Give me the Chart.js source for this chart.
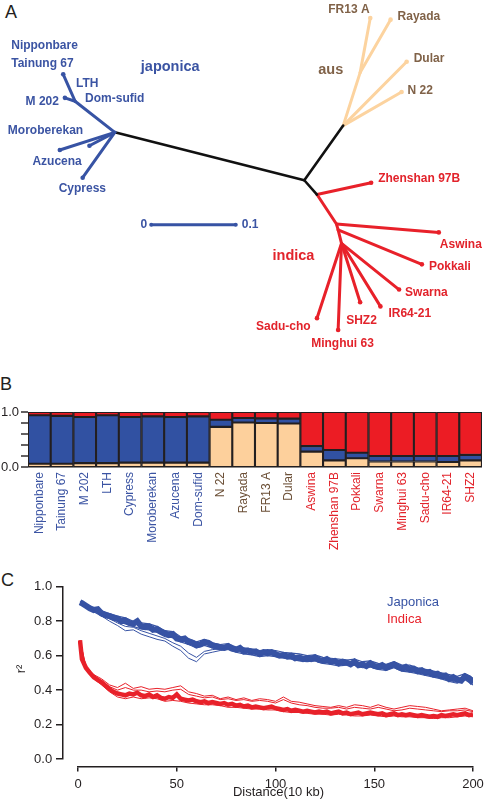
<!DOCTYPE html>
<html>
<head>
<meta charset="utf-8">
<script src="https://cdn.jsdelivr.net/npm/chart.js@4.4.1/dist/chart.umd.min.js"></script>
<style>
  body { margin: 0; background: #fff; width: 490px; height: 800px; position: relative; overflow: hidden;
         font-family: "Liberation Sans", Arial, sans-serif; }
  canvas { position: absolute; left: 0; }
  .letter { position: absolute; line-height: 1; color: #231f20; font-size: 18px; }
</style>
</head>
<body>
<div class="letter" style="left:5px;top:3px">A</div>
<div class="letter" style="left:0px;top:375px">B</div>
<div class="letter" style="left:1px;top:571px">C</div>
<canvas id="treeChart" width="490" height="360" style="top:0"></canvas>
<canvas id="structureChart" width="490" height="155" style="top:395px"></canvas>
<canvas id="ldChart" width="490" height="225" style="top:575px"></canvas>
<script>
// ---------- Panel A: tree, node positions in substitutions per site ----------
const nodeNames = ['J0', 'Jmid', 'NippTip', 'M202Tip', 'MoroTip', 'AzuTip', 'CypTip', 'Root', 'AusHub', 'AusInt',
  'FR13ATip', 'RayTip', 'DulTip', 'N22Tip', 'I0', 'ZhsTip', 'I1', 'AswTip', 'I2', 'PokTip', 'I3',
  'SwaTip', 'IR64Tip', 'SHZ2Tip', 'MinTip', 'SadTip'];
const nodeX = [.131, .084, .070, .072, .066, .101, .093, .355, .401, .421,
  .433, .457, .476, .470, .370, .434, .393, .514, .395, .494, .399,
  .467, .445, .421, .395, .370];
const nodeY = [.266, .303, .335, .307, .245, .250, .212, .209, .274, .337,
  .402, .400, .350, .314, .192, .206, .157, .147, .150, .109, .134,
  .079, .059, .064, .031, .045];

const branchFrom = ['J0', 'Jmid', 'Jmid', 'J0', 'J0', 'J0', 'J0', 'Root', 'Root', 'AusHub', 'AusInt', 'AusInt', 'AusHub', 'AusHub',
  'I0', 'I0', 'I1', 'I1', 'I2', 'I2', 'I3', 'I3', 'I3', 'I3', 'I3'];
const branchTo = ['Jmid', 'NippTip', 'M202Tip', 'MoroTip', 'AzuTip', 'CypTip', 'Root', 'AusHub', 'I0', 'AusInt', 'FR13ATip', 'RayTip', 'DulTip', 'N22Tip',
  'ZhsTip', 'I1', 'AswTip', 'I2', 'PokTip', 'I3', 'SwaTip', 'IR64Tip', 'SHZ2Tip', 'MinTip', 'SadTip'];
const branchGroup = ['jap', 'jap', 'jap', 'jap', 'jap', 'jap', 'stem', 'stem', 'stem', 'aus', 'aus', 'aus', 'aus', 'aus',
  'ind', 'ind', 'ind', 'ind', 'ind', 'ind', 'ind', 'ind', 'ind', 'ind', 'ind'];

const tipLabels = ['Nipponbare', 'Tainung 67', 'LTH', 'Dom-sufid', 'M 202', 'Moroberekan', 'Azucena', 'Cypress',
  'FR13 A', 'Rayada', 'Dular', 'N 22',
  'Zhenshan 97B', 'Aswina', 'Pokkali', 'Swarna', 'IR64-21', 'SHZ2', 'Sadu-cho', 'Minghui 63'];
const tipLabelNode = ['NippTip', 'NippTip', 'Jmid', 'Jmid', 'M202Tip', 'MoroTip', 'AzuTip', 'CypTip',
  'FR13ATip', 'RayTip', 'DulTip', 'N22Tip',
  'ZhsTip', 'AswTip', 'PokTip', 'SwaTip', 'IR64Tip', 'SHZ2Tip', 'SadTip', 'MinTip'];
const tipLabelGroup = ['jap', 'jap', 'jap', 'jap', 'jap', 'jap', 'jap', 'jap', 'aus', 'aus', 'aus', 'aus',
  'ind', 'ind', 'ind', 'ind', 'ind', 'ind', 'ind', 'ind'];
const cladeLabels = ['japonica', 'aus', 'indica'];
const cladeLabelNode = ['J0', 'AusHub', 'I3'];
const cladeLabelGroup = ['jap', 'aus', 'ind'];
const scaleBarLength = 0.1;
const scaleBarTicks = ['0', '0.1'];

// ---------- Panel B: structure proportions ----------
const accessions = ['Nipponbare', 'Tainung 67', 'M 202', 'LTH', 'Cypress', 'Moroberekan', 'Azucena', 'Dom-sufid',
  'N 22', 'Rayada', 'FR13 A', 'Dular',
  'Aswina', 'Zhenshan 97B', 'Pokkali', 'Swarna', 'Minghui 63', 'Sadu-cho', 'IR64-21', 'SHZ2'];
const accessionGroup = ['jap', 'jap', 'jap', 'jap', 'jap', 'jap', 'jap', 'jap', 'aus', 'aus', 'aus', 'aus',
  'ind', 'ind', 'ind', 'ind', 'ind', 'ind', 'ind', 'ind'];
const ausShare = [0.06, 0.06, 0.07, 0.07, 0.08, 0.08, 0.08, 0.08, 0.73, 0.81, 0.80, 0.79,
  0.28, 0.12, 0.16, 0.10, 0.10, 0.10, 0.09, 0.12];
const japShare = [0.88, 0.87, 0.84, 0.87, 0.83, 0.84, 0.83, 0.84, 0.13, 0.08, 0.085, 0.09,
  0.10, 0.19, 0.10, 0.10, 0.10, 0.10, 0.11, 0.10];
const indShare = [0.06, 0.07, 0.09, 0.06, 0.09, 0.08, 0.09, 0.08, 0.14, 0.11, 0.115, 0.12,
  0.62, 0.69, 0.74, 0.80, 0.80, 0.80, 0.80, 0.78];

// ---------- Panel C: LD decay (r^2 vs distance in 10 kb) ----------
const distFine = [1, 2, 4, 6, 8, 10, 12, 14, 16, 18, 20, 22, 24, 26, 28, 30, 32, 34, 36, 38,
  40, 42, 44, 46, 48, 50, 52, 54, 56, 58, 60, 62, 64, 66, 68, 70, 72, 74, 76, 78,
  80, 82, 84, 86, 88, 90, 92, 94, 96, 98, 100, 102, 104, 106, 108, 110, 112, 114, 116, 118,
  120, 122, 124, 126, 128, 130, 132, 134, 136, 138, 140, 142, 144, 146, 148, 150, 152, 154, 156, 158,
  160, 162, 164, 166, 168, 170, 172, 174, 176, 178, 180, 182, 184, 186, 188, 190, 192, 194, 196, 198, 200];
const distCoarse = [1, 4, 8, 12, 16, 20, 24, 28, 32, 36, 40, 44, 48, 52, 56, 60, 64, 68, 72, 76,
  80, 84, 88, 92, 96, 100, 104, 108, 112, 116, 120, 124, 128, 132, 136, 140, 144, 148, 152, 156,
  160, 164, 168, 172, 176, 180, 184, 188, 192, 196, 200];

const japMain = [.91, .905, .89, .875, .865, .87, .845, .835, .83, .82,
  .815, .80, .805, .79, .785, .80, .77, .765, .77, .75,
  .755, .74, .73, .72, .725, .70, .695, .70, .68, .675,
  .66, .665, .68, .675, .66, .655, .65, .645, .655, .64,
  .635, .645, .625, .63, .62, .625, .61, .62, .615, .62,
  .61, .60, .605, .595, .60, .585, .59, .58, .585, .58,
  .59, .575, .57, .58, .565, .57, .555, .565, .56, .55,
  .565, .545, .55, .54, .555, .54, .535, .545, .53, .54,
  .55, .535, .525, .535, .52, .525, .51, .515, .50, .505,
  .49, .495, .48, .485, .465, .475, .46, .455, .48, .47, .44];
const japUpper = [.915, .90, .875, .86, .845, .83, .82, .80, .79, .785,
  .77, .745, .74, .71, .70, .68, .695, .675, .665, .67,
  .65, .645, .64, .63, .635, .63, .62, .615, .61, .60,
  .605, .59, .585, .58, .575, .58, .565, .57, .555, .55,
  .565, .545, .545, .53, .52, .51, .50, .49, .48, .495, .47];
const japLower = [.90, .88, .855, .83, .815, .80, .785, .77, .755, .75,
  .735, .71, .705, .68, .665, .645, .66, .645, .635, .64,
  .62, .61, .605, .595, .60, .595, .585, .58, .57, .565,
  .57, .555, .55, .54, .545, .545, .53, .535, .52, .515,
  .53, .51, .505, .495, .485, .475, .465, .45, .44, .46, .43];
const japDip1 = [.905, .885, .86, .83, .80, .775, .745, .75, .725, .71,
  .695, .685, .655, .63, .585, .565, .61, .62, .63, .635,
  .625, .62, .615, .60, .61, .605, .59, .59, .58, .575,
  .58, .56, .56, .55, .555, .55, .54, .545, .525, .525,
  .54, .52, .515, .505, .495, .485, .47, .46, .45, .47, .45];
const japDip2 = [.908, .89, .865, .84, .815, .79, .77, .765, .745, .73,
  .715, .70, .675, .655, .615, .59, .625, .635, .64, .645,
  .63, .625, .615, .605, .61, .60, .595, .59, .575, .57,
  .575, .565, .555, .55, .55, .555, .535, .54, .53, .52,
  .54, .515, .51, .50, .49, .48, .47, .455, .445, .465, .44];

const indMain = [.69, .58, .53, .50, .475, .46, .445, .425, .405, .39,
  .38, .375, .37, .38, .375, .385, .37, .365, .375, .36,
  .37, .355, .35, .36, .355, .375, .35, .345, .34, .345,
  .335, .33, .335, .325, .33, .325, .32, .325, .315, .32,
  .31, .315, .305, .31, .30, .305, .30, .295, .30, .305,
  .295, .29, .285, .29, .28, .285, .28, .275, .28, .275,
  .27, .275, .27, .275, .265, .27, .275, .265, .27, .26,
  .265, .27, .26, .265, .27, .265, .26, .265, .255, .26,
  .265, .255, .26, .255, .26, .255, .25, .255, .25, .245,
  .25, .245, .255, .25, .255, .26, .255, .26, .265, .255, .26];
const indHigh1 = [.69, .54, .49, .465, .43, .415, .44, .41, .42, .405,
  .41, .405, .415, .425, .39, .38, .365, .37, .35, .36,
  .345, .355, .34, .35, .345, .335, .36, .335, .33, .32,
  .31, .305, .30, .31, .30, .315, .31, .30, .315, .30,
  .29, .30, .31, .305, .30, .29, .28, .285, .29, .295, .28];
const indHigh2 = [.69, .535, .48, .45, .42, .40, .415, .40, .40, .39,
  .395, .39, .40, .405, .375, .365, .355, .36, .345, .35,
  .34, .345, .335, .34, .335, .325, .345, .325, .315, .31,
  .30, .295, .295, .30, .29, .30, .295, .29, .30, .29,
  .28, .285, .295, .29, .285, .28, .275, .28, .28, .285, .275];
const indLow = [.68, .52, .465, .43, .39, .36, .35, .36, .35, .355,
  .35, .335, .34, .335, .325, .32, .315, .315, .31, .30,
  .30, .295, .29, .29, .285, .285, .275, .27, .27, .265,
  .26, .26, .255, .26, .255, .25, .25, .255, .25, .245,
  .25, .245, .245, .24, .24, .235, .24, .24, .245, .25, .245];

// colours
const groupLine = { jap: '#3753a4', aus: '#fcd39f', ind: '#e8212a', stem: '#111111' };
const groupText = { jap: '#3b54a3', aus: '#806248', ind: '#e2232b' };
const axisTextColor = { jap: '#3b54a3', aus: '#6b4f36', ind: '#e2232b' };
const INK = '#231f20';
const FONT = '"Liberation Sans", Arial, sans-serif';

Chart.defaults.font.family = FONT;
Chart.defaults.color = INK;
Chart.defaults.animation = false;

function nodePoint(name) {
  const i = nodeNames.indexOf(name);
  return { x: nodeX[i], y: nodeY[i] };
}

// ---------- Panel A chart ----------
const branchSets = branchFrom.map((from, i) => {
  const isTip = branchTo[i].endsWith('Tip');
  const colour = groupLine[branchGroup[i]];
  return {
    data: [nodePoint(from), nodePoint(branchTo[i])],
    showLine: true,
    borderColor: colour,
    backgroundColor: colour,
    borderWidth: branchGroup[i] === 'stem' ? 2.6 : 3,
    borderCapStyle: 'round',
    pointRadius: [0, isTip ? 2.3 : 0],
    pointBorderWidth: 0,
    clip: false
  };
});
const scaleStart = { x: .174, y: .156 };
branchSets.push({
  data: [scaleStart, { x: scaleStart.x + scaleBarLength, y: scaleStart.y }],
  showLine: true, borderColor: groupLine.jap, backgroundColor: groupLine.jap,
  borderWidth: 3, pointRadius: 2, pointBorderWidth: 0, clip: false
});

// label offsets in px relative to the anchoring node: [dx, dy, align]
const tipLabelOffset = [[-52, -29, 'left'], [-52, -11, 'left'], [1, -18, 'left'], [10, -3, 'left'], [-6, 4, 'right'],
  [-52, -19, 'left'], [-57, 16, 'left'], [-24, 11, 'left'],
  [-42, -8, 'left'], [7, -3, 'left'], [7, -3, 'left'], [6, -1, 'left'],
  [7, -4, 'left'], [1, 12, 'left'], [7, 2, 'left'], [6, 3, 'left'], [8, 7, 'left'], [-14, 19, 'left'],
  [-61, 9, 'left'], [-27, 14, 'left']];
const cladeLabelOffset = [[26, -65], [-25, -56], [-69, 13]];

const treeLabels = {
  id: 'treeLabels',
  afterDatasetsDraw(chart) {
    const { ctx, scales: { x, y } } = chart;
    ctx.save();
    ctx.textBaseline = 'middle';
    ctx.font = 'bold 12px ' + FONT;
    tipLabels.forEach((txt, i) => {
      const p = nodePoint(tipLabelNode[i]);
      const o = tipLabelOffset[i];
      ctx.fillStyle = groupText[tipLabelGroup[i]];
      ctx.textAlign = o[2];
      ctx.fillText(txt, x.getPixelForValue(p.x) + o[0], y.getPixelForValue(p.y) + o[1]);
    });
    ctx.font = 'bold 14.5px ' + FONT;
    ctx.textAlign = 'left';
    cladeLabels.forEach((txt, i) => {
      const p = nodePoint(cladeLabelNode[i]);
      ctx.fillStyle = groupText[cladeLabelGroup[i]];
      ctx.fillText(txt, x.getPixelForValue(p.x) + cladeLabelOffset[i][0], y.getPixelForValue(p.y) + cladeLabelOffset[i][1]);
    });
    ctx.font = 'bold 12px ' + FONT;
    ctx.fillStyle = groupText.jap;
    const sy = y.getPixelForValue(scaleStart.y);
    ctx.textAlign = 'right';
    ctx.fillText(scaleBarTicks[0], x.getPixelForValue(scaleStart.x) - 4, sy);
    ctx.textAlign = 'left';
    ctx.fillText(scaleBarTicks[1], x.getPixelForValue(scaleStart.x + scaleBarLength) + 6, sy);
    ctx.restore();
  }
};

new Chart(document.getElementById('treeChart'), {
  type: 'scatter',
  data: { datasets: branchSets },
  options: {
    responsive: false,
    devicePixelRatio: 1,
    layout: { padding: 0 },
    scales: {
      x: { type: 'linear', display: false, min: 0, max: 0.5698 },
      y: { type: 'linear', display: false, min: 0, max: 0.4186 }
    },
    plugins: { legend: { display: false }, tooltip: { enabled: false } }
  },
  plugins: [treeLabels]
});

// ---------- Panel B chart ----------
const barStyle = { borderColor: INK, borderWidth: 1.4, borderSkipped: false, barPercentage: 1, categoryPercentage: 1 };
const structureTicks = {
  id: 'structureTicks',
  afterDraw(chart) {
    const { ctx, chartArea, scales: { y } } = chart;
    ctx.save();
    ctx.fillStyle = INK;
    y.ticks.forEach(t => {
      const py = Math.round(y.getPixelForValue(t.value));
      ctx.fillRect(chartArea.left - 7, py - 0.7, 7, 1.4);
    });
    ctx.restore();
  }
};
new Chart(document.getElementById('structureChart'), {
  type: 'bar',
  data: {
    labels: accessions,
    datasets: [
      Object.assign({ label: 'aus', data: ausShare, backgroundColor: '#fdd09c' }, barStyle),
      Object.assign({ label: 'japonica', data: japShare, backgroundColor: '#3151a2' }, barStyle),
      Object.assign({ label: 'indica', data: indShare, backgroundColor: '#ec1c24' }, barStyle)
    ]
  },
  options: {
    responsive: false,
    devicePixelRatio: 1,
    layout: { padding: { top: 17, right: 0, left: 0, bottom: 0 } },
    scales: {
      x: {
        stacked: true,
        grid: { display: false, drawTicks: false },
        border: { display: true, color: '#8a8a8a', width: 1 },
        ticks: {
          autoSkip: false, maxRotation: 90, minRotation: 90, padding: 5,
          font: { size: 12 },
          color: c => axisTextColor[accessionGroup[c.index]]
        },
        afterFit: s => { s.height = 83; }
      },
      y: {
        stacked: true, min: 0, max: 1,
        border: { display: false },
        grid: { display: false, drawTicks: false },
        ticks: {
          autoSkip: false, stepSize: 0.2, padding: 9, font: { size: 13 }, color: INK,
          callback: v => (Math.abs(v) < 1e-6 || Math.abs(v - 1) < 1e-6) ? v.toFixed(1) : ''
        },
        afterFit: s => { s.width = 28; s.paddingTop = 0; s.paddingBottom = 0; }
      }
    },
    plugins: { legend: { display: false }, tooltip: { enabled: false } }
  },
  plugins: [structureTicks]
});

// ---------- Panel C chart ----------
function pairs(xs, ys) { return xs.map((d, i) => ({ x: d, y: ys[i] })); }
function ldLine(xs, ys, colour, width) {
  return { data: pairs(xs, ys), borderColor: colour, borderWidth: width, pointRadius: 0, tension: 0, fill: false };
}
const ldSets = [
  ldLine(distCoarse, indHigh1, groupLine.ind, 1),
  ldLine(distCoarse, indHigh2, groupLine.ind, 1),
  ldLine(distCoarse, indLow, groupLine.ind, 1),
  ldLine(distFine, indMain, groupLine.ind, 4.5),
  ldLine(distCoarse, japUpper, groupLine.jap, 1.2),
  ldLine(distCoarse, japLower, groupLine.jap, 1.2),
  ldLine(distCoarse, japDip1, groupLine.jap, 1),
  ldLine(distCoarse, japDip2, groupLine.jap, 1),
  ldLine(distFine, japMain, groupLine.jap, 6)
];
const legendNames = ['Japonica', 'Indica'];
const legendGroup = ['jap', 'ind'];
const xTitle = 'Distance(10 kb)';
const yTitle = 'r²';

const ldText = {
  id: 'ldText',
  afterDraw(chart) {
    const { ctx, chartArea } = chart;
    ctx.save();
    ctx.font = '13px ' + FONT;
    ctx.textBaseline = 'middle';
    ctx.textAlign = 'left';
    legendNames.forEach((n, i) => {
      ctx.fillStyle = groupLine[legendGroup[i]];
      ctx.fillText(n, chartArea.right - 86, chartArea.top + 16 + i * 17);
    });
    ctx.fillStyle = INK;
    ctx.textAlign = 'center';
    ctx.fillText(xTitle, (chartArea.left + chartArea.right) / 2 + 3, chart.height - 8);
    ctx.translate(21, (chartArea.top + chartArea.bottom) / 2 - 4);
    ctx.rotate(-Math.PI / 2);
    ctx.fillText(yTitle, 0, 0);
    ctx.restore();
  }
};

// the two axes are detached from the plot (placed just outside the data range)
const axisStyle = {
  border: { display: true, color: INK, width: 1.5 },
  grid: { display: true, drawOnChartArea: false, drawTicks: true, color: INK, lineWidth: 1.5 }
};
new Chart(document.getElementById('ldChart'), {
  type: 'line',
  data: { datasets: ldSets },
  options: {
    responsive: false,
    devicePixelRatio: 1,
    layout: { padding: { top: 8, right: 17, left: 78, bottom: 41 } },
    scales: {
      x: {
        type: 'linear', min: 0, max: 200, position: { y: -0.045 },
        border: axisStyle.border,
        grid: Object.assign({}, axisStyle.grid, { tickLength: 4 }),
        ticks: { stepSize: 50, padding: 6, font: { size: 13 }, color: INK }
      },
      y: {
        type: 'linear', min: 0, max: 1, position: { x: -7.6 },
        border: axisStyle.border,
        grid: Object.assign({}, axisStyle.grid, { tickLength: 6 }),
        // right-aligned at the axis line, so trailing spaces keep the text clear of the ticks
        ticks: { autoSkip: false, stepSize: 0.2, padding: 4, font: { size: 13 }, color: INK, callback: v => v.toFixed(1) + '   ' }
      }
    },
    plugins: { legend: { display: false }, tooltip: { enabled: false } }
  },
  plugins: [ldText]
});
</script>
</body>
</html>
